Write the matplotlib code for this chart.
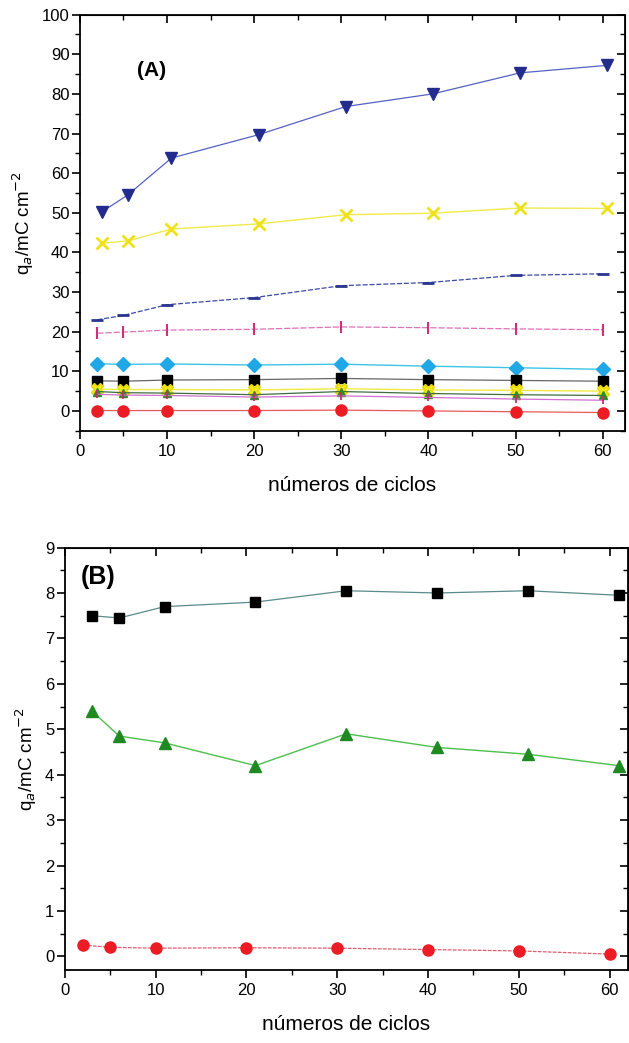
import matplotlib
matplotlib.use("Agg")
import matplotlib.pyplot as plt
from matplotlib.ticker import MultipleLocator

plt.rcParams['font.family'] = ['Liberation Sans', 'DejaVu Sans']

# ---- data, panel (A)
x_a = [2, 5, 10, 20, 30, 40, 50, 60]
x_a_top = [2.5, 5.5, 10.5, 20.5, 30.5, 40.5, 50.5, 60.5]

a_blue_tri = [50.2, 54.5, 63.8, 69.7, 76.8, 80.0, 85.3, 87.2]
a_yellow_x = [42.3, 42.9, 45.9, 47.2, 49.5, 49.9, 51.2, 51.1]
a_navy_dash = [23.0, 24.1, 26.8, 28.6, 31.6, 32.4, 34.2, 34.6]
a_magenta_bar = [19.6, 19.9, 20.4, 20.6, 21.2, 21.0, 20.7, 20.5]
a_cyan_diamond = [11.9, 11.75, 11.85, 11.6, 11.8, 11.3, 10.9, 10.5]
a_black_square = [7.6, 7.5, 7.8, 7.9, 8.2, 7.9, 7.7, 7.5]
a_yellow_star = [5.5, 5.4, 5.4, 5.3, 5.6, 5.3, 5.2, 5.0]
a_green_tri = [4.9, 4.6, 4.5, 4.1, 4.9, 4.4, 4.1, 3.9]
a_pink_bar = [4.2, 4.0, 3.9, 3.5, 3.8, 3.4, 3.0, 2.7]
a_red_circle = [0.1, 0.1, 0.1, 0.1, 0.2, 0.0, -0.2, -0.4]

# ---- data, panel (B)
x_b_red = [2, 5, 10, 20, 30, 40, 50, 60]
x_b = [3, 6, 11, 21, 31, 41, 51, 61]
b_black_square = [7.5, 7.45, 7.7, 7.8, 8.05, 8.0, 8.05, 7.95]
b_green_tri = [5.4, 4.85, 4.7, 4.2, 4.9, 4.6, 4.45, 4.2]
b_red_circle = [0.25, 0.2, 0.18, 0.19, 0.18, 0.15, 0.12, 0.05]

xlabel = "números de ciclos"
ylabel = "q$_a$/mC cm$^{-2}$"

fig = plt.figure(figsize=(6.29, 10.43), dpi=100)
ax_a = fig.add_axes([0.127, 0.587, 0.866, 0.399])
ax_b = fig.add_axes([0.103, 0.070, 0.895, 0.405])


def style_axes(ax, ymajor, yminor):
    ax.xaxis.set_major_locator(MultipleLocator(10))
    ax.xaxis.set_minor_locator(MultipleLocator(5))
    ax.yaxis.set_major_locator(MultipleLocator(ymajor))
    ax.yaxis.set_minor_locator(MultipleLocator(yminor))
    ax.tick_params(which='major', direction='out', length=6, width=1.2, labelsize=12)
    ax.tick_params(axis='y', pad=1.5)
    ax.tick_params(which='minor', direction='out', length=3.5, width=1.0)
    for s in ax.spines.values():
        s.set_linewidth(1.3)
    # mirror ticks on top and right, pointing in
    top = ax.secondary_xaxis('top')
    top.xaxis.set_major_locator(MultipleLocator(10))
    top.xaxis.set_minor_locator(MultipleLocator(5))
    top.tick_params(which='major', direction='in', length=6, width=1.2, labeltop=False)
    top.tick_params(which='minor', direction='in', length=3.5, width=1.0)
    right = ax.secondary_yaxis('right')
    right.yaxis.set_major_locator(MultipleLocator(ymajor))
    right.yaxis.set_minor_locator(MultipleLocator(yminor))
    right.tick_params(which='major', direction='in', length=6, width=1.2, labelright=False)
    right.tick_params(which='minor', direction='in', length=3.5, width=1.0)
    ax.set_xlabel(xlabel, fontsize=15, labelpad=12)
    ax.set_ylabel(ylabel, fontsize=13.5, labelpad=4)


# ---- panel (A)
ax = ax_a
ax.plot(x_a_top, a_blue_tri, color='#5561c4', lw=0.9, marker='v', ms=9,
        mfc='#232b8c', mec='#232b8c')
ax.plot(x_a_top, a_yellow_x, color='#f2ea4a', lw=1.0, marker='x', ms=9,
        mec='#efe21a', mew=2.0)
ax.plot(x_a, a_navy_dash, color='#3a4aa8', lw=0.9, ls=(0, (4, 1.5)), marker='_',
        ms=8, mec='#2a3590', mew=2.0)
ax.plot(x_a, a_magenta_bar, color='#e070b8', lw=0.9, ls=(0, (5, 1.5)), marker='|',
        ms=9, mec='#d0307a', mew=1.5)
ax.plot(x_a, a_cyan_diamond, color='#3cc4e6', lw=1.0, marker='D', ms=7,
        mfc='#1fa7e6', mec='#1fa7e6')
ax.plot(x_a, a_black_square, color='#666666', lw=0.9, marker='s', ms=7,
        mfc='black', mec='black')
ax.plot(x_a, a_yellow_star, color='#f0ea40', lw=1.0, marker='X', ms=8,
        mfc='#f2e620', mec='#e6d800')
ax.plot(x_a, a_green_tri, color='#3e6e3e', lw=0.9, marker='^', ms=6,
        mfc='#2f8a2a', mec='#2f8a2a')
ax.plot(x_a, a_pink_bar, color='#d070d0', lw=0.9, marker='|', ms=6,
        mec='#d02a70', mew=1.3)
ax.plot(x_a, a_red_circle, color='#e85a5a', lw=0.9, marker='o', ms=8,
        mfc='#ec1c24', mec='#ec1c24')
ax.set_xlim(0, 62.5)
ax.set_ylim(-5, 100)
style_axes(ax, 10, 5)
ax.text(6.5, 86, "(A)", fontsize=15, fontweight='bold', ha='left', va='center')

# ---- panel (B)
ax = ax_b
ax.plot(x_b, b_black_square, color='#5a8a8a', lw=0.9, marker='s', ms=7,
        mfc='black', mec='black')
ax.plot(x_b, b_green_tri, color='#4cc04c', lw=1.0, marker='^', ms=9,
        mfc='#1f8a22', mec='#1f8a22')
ax.plot(x_b_red, b_red_circle, color='#e06070', lw=0.9, ls=(0, (3, 1)), marker='o',
        ms=8, mfc='#ec1c24', mec='#ec1c24')
ax.set_xlim(0, 62)
ax.set_ylim(-0.3, 9)
style_axes(ax, 1, 0.5)
ax.text(1.8, 8.35, "(B)", fontsize=18, fontweight='bold', ha='left', va='center')

fig.savefig("out.png", dpi=100)
